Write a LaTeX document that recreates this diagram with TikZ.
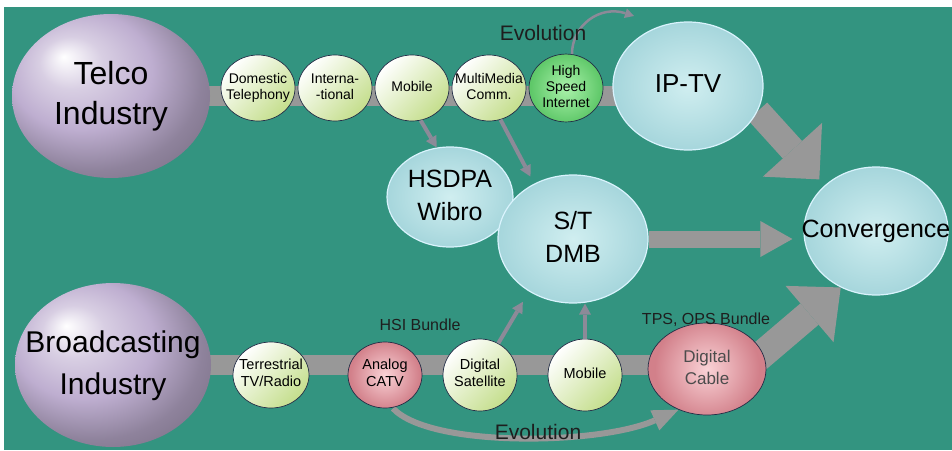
\documentclass[tikz,border=0pt]{standalone}
\usepackage{fontspec}
\setmainfont{Liberation Sans}
\usetikzlibrary{arrows.meta,shapes.geometric,positioning}
\pgfdeclarelayer{back}
\pgfdeclarelayer{bg}
\pgfsetlayers{back,bg,main}
\definecolor{seaGreen}{RGB}{51,148,128}
\definecolor{barGray}{RGB}{152,152,152}
\definecolor{thinGray}{RGB}{140,138,152}
\definecolor{ballPurple}{RGB}{190,174,208}
\definecolor{cyanIn}{RGB}{208,238,240}
\definecolor{cyanOut}{RGB}{166,214,220}
\definecolor{leafGreen}{RGB}{196,222,140}
\definecolor{hsiIn}{RGB}{170,242,170}
\definecolor{hsiOut}{RGB}{95,200,105}
\definecolor{pinkIn}{RGB}{250,210,214}
\definecolor{pinkOut}{RGB}{210,128,138}
\definecolor{rimDark}{RGB}{35,45,70}
\definecolor{labelDark}{RGB}{30,30,30}
\pgfdeclareradialshading{purpleBall}{\pgfpoint{-12bp}{12bp}}{color(0bp)=(white); color(8bp)=(ballPurple!60!white); color(18bp)=(ballPurple); color(28bp)=(ballPurple!75!black); color(50bp)=(ballPurple!45!black)}
\newcommand{\nodetext}[1]{\makebox[0pt]{\begin{tabular}{@{}c@{}}#1\end{tabular}}}
\tikzstyle{ballNode} = [ellipse, inner sep=0pt, shading=purpleBall, font=\fontsize{32}{40}\selectfont]
\tikzstyle{cyanNode} = [ellipse, inner sep=0pt, draw=white!85!cyan, line width=1.2pt, inner color=cyanIn, outer color=cyanOut, font=\fontsize{25}{33}\selectfont]
\tikzstyle{smallNode} = [ellipse, inner sep=0pt, minimum width=74pt, minimum height=66pt, draw=rimDark, line width=0.7pt, left color=white, right color=leafGreen, shading angle=45, font=\fontsize{14}{16}\selectfont]
\tikzstyle{hsiNode} = [smallNode, inner color=hsiIn, outer color=hsiOut]
\tikzstyle{pinkNode} = [smallNode, inner color=pinkIn, outer color=pinkOut]
\tikzstyle{eNode} = [inner sep=0pt, text=labelDark]
\tikzstyle{barLine} = [line width=20pt, draw=barGray]
\tikzstyle{bigArrow} = [draw=barGray, line width=26pt, -{Triangle[width=80pt,length=40pt,line width=0pt]}]
\tikzstyle{arrowT} = [draw=thinGray, line width=4pt, -{Triangle[width=12pt,length=11pt,line width=0pt]}]
\tikzstyle{arrowEvo} = [draw=thinGray, line width=2.5pt, -{Triangle[width=10pt,length=9pt,line width=0pt]}]
\tikzstyle{arrowEvoB} = [draw=barGray, line width=6pt, -{Triangle[width=22pt,length=26pt,line width=0pt]}]
\begin{document}
\begin{tikzpicture}[x=1pt, y=-1pt, node distance=77pt]
    \useasboundingbox (0,0) rectangle (952,450);
    \begin{pgfonlayer}{back}
    \fill[white] (0,0) rectangle (952,450);
    \fill[seaGreen] (4,7) rectangle (952,450);
    \end{pgfonlayer}

    \node (telco) [ballNode, minimum width=198pt, minimum height=164pt] at (111,96) {\nodetext{Telco\\Industry}};
    \node (bcast) [ballNode, minimum width=196pt, minimum height=164pt, font=\fontsize{30}{42}\selectfont] at (113,365) {\nodetext{Broadcasting\\Industry}};

    \node (dom) [smallNode] at (258,88) {\nodetext{Domestic\\Telephony}};
    \node (intl) [smallNode, right of=dom] {\nodetext{Interna-\\-tional}};
    \node (mobT) [smallNode, right of=intl] {\nodetext{Mobile}};
    \node (mmc) [smallNode, right of=mobT] {\nodetext{MultiMedia\\Comm.}};
    \node (hsi) [hsiNode, right of=mmc] {\nodetext{High\\Speed\\Internet}};

    \node (terr) [smallNode, minimum width=76pt, font=\fontsize{14.5}{17}\selectfont] at (271,375) {\nodetext{Terrestrial\\TV/Radio}};
    \node (catv) [pinkNode, right of=terr, xshift=37pt, font=\fontsize{14.5}{17}\selectfont] {\nodetext{Analog\\CATV}};
    \node (dsat) [smallNode, right of=catv, xshift=18pt, minimum height=72pt, font=\fontsize{14.5}{17}\selectfont] {\nodetext{Digital\\Satellite}};
    \node (mobB) [smallNode, right of=dsat, xshift=28pt, minimum height=72pt, font=\fontsize{14.5}{17}\selectfont] {\nodetext{Mobile}};
    \node (dcable) [pinkNode, right of=mobB, xshift=45pt, yshift=6pt, minimum width=118pt, minimum height=92pt, font=\fontsize{17}{22}\selectfont, text=black!70] {\nodetext{Digital\\Cable}};

    \node (iptv) [cyanNode, minimum width=150pt, minimum height=128pt, font=\fontsize{26}{30}\selectfont] at (688,86) {\nodetext{IP-TV}};
    \node (hsdpa) [cyanNode, minimum width=126pt, minimum height=100pt] at (450,197) {\nodetext{HSDPA\\Wibro}};
    \node (dmb) [cyanNode, minimum width=150pt, minimum height=128pt] at (573,239) {\nodetext{S/T\\DMB}};
    \node (conv) [cyanNode, minimum width=144pt, minimum height=128pt] at (876,231) {\nodetext{Convergence}};

    \begin{pgfonlayer}{bg}
    \draw [barLine] (telco.center) -- (telco.center -| iptv.center);
    \draw [barLine] (bcast.center) -- (bcast.center -| dcable.center);
    \draw [bigArrow, shorten >=8pt] (iptv.-20) -- (conv.north west);
    \draw [bigArrow, line width=17pt, -{Triangle[width=36pt,length=32pt,line width=0pt]}, shorten >=11pt] (dmb.east) -- (dmb.east -| conv.west);
    \draw [bigArrow, line width=28pt, -{Triangle[width=74pt,length=41pt,line width=0pt]}] ([xshift=38pt]dcable.center) -- (conv.238);
    \draw [arrowEvoB] ([xshift=8pt]catv.south) .. controls (430,448) and (600,445) .. (dcable.235);
    \end{pgfonlayer}

    \draw [arrowT] (mobT.-75) -- (hsdpa.105);
    \draw [arrowT, shorten >=8pt] (mmc.-70) -- (dmb.125);
    \draw [arrowT, shorten >=12pt] (dsat.60) -- (dmb.-130);
    \draw [arrowT] (mobB.north) -- (mobB.north |- dmb.south);
    \coordinate (evoEnd) at (634,16);
    \draw [arrowEvo] (hsi.80) .. controls (572,25) and (600,5) .. (evoEnd);

    \node (hsiBundle) [eNode, font=\fontsize{16}{16}\selectfont] at (420,325) {HSI Bundle};
    \node (tpsBundle) [eNode, font=\fontsize{16}{16}\selectfont] at (706,320) {TPS, OPS Bundle};
    \node (evoTop) [eNode, font=\fontsize{21}{21}\selectfont] at (543,33) {Evolution};
    \node (evoBot) [eNode, font=\fontsize{21}{21}\selectfont] at (538,432) {Evolution};
\end{tikzpicture}
\end{document}
